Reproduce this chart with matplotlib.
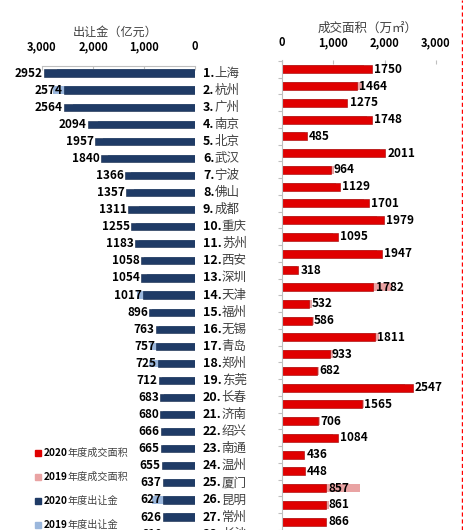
import numpy as np
import matplotlib.pyplot as plt
import matplotlib.transforms as mtransforms
from matplotlib.lines import Line2D
from matplotlib.patches import Rectangle
from matplotlib.ticker import FuncFormatter

plt.rcParams['font.family'] = ['Noto Sans CJK SC', 'DejaVu Sans']

# data
cities = ['上海', '杭州', '广州', '南京', '北京', '武汉', '宁波', '佛山', '成都', '重庆',
          '苏州', '西安', '深圳', '天津', '福州', '无锡', '青岛', '郑州', '东莞', '长春',
          '济南', '绍兴', '南通', '温州', '厦门', '昆明', '常州', '长沙']
fee_2020 = [2952, 2574, 2564, 2094, 1957, 1840, 1366, 1357, 1311, 1255,
            1183, 1058, 1054, 1017, 896, 763, 757, 725, 712, 683,
            680, 666, 665, 655, 637, 627, 626, 610]
fee_2019 = [2700, 2780, 2400, 1900, 1800, 1700, 1250, 1200, 1100, 1150,
            1100, 1000, 950, 1130, 850, 700, 880, 900, 650, 600,
            620, 600, 620, 600, 580, 840, 560, 580]
area_2020 = [1750, 1464, 1275, 1748, 485, 2011, 964, 1129, 1701, 1979,
             1095, 1947, 318, 1782, 532, 586, 1811, 933, 682, 2547,
             1565, 706, 1084, 436, 448, 857, 861, 866]
area_2019 = [1600, 1560, 1200, 1650, 450, 1900, 1020, 1050, 1600, 1850,
             1000, 1850, 300, 2150, 585, 625, 1890, 1000, 720, 2400,
             1600, 745, 1000, 400, 420, 1520, 910, 820]
legend_labels = [('2020', '年度成交面积'), ('2019', '年度成交面积'),
                 ('2020', '年度出让金'), ('2019', '年度出让金')]

W, H = 464, 530
fig = plt.figure(figsize=(W / 100, H / 100), dpi=100)


def box(l, t, r, b):
    return [l / W, 1 - b / H, (r - l) / W, (b - t) / H]


navy = '#1F3B66'
lblue = '#9BB7DC'
red = '#E00000'
pink = '#E9A3A3'
grid = '#BFBFBF'
y = np.arange(len(cities))

# left panel: land fee
axL = fig.add_axes(box(42, 66, 195, 530))
axL.barh(y, fee_2019, height=0.42, color=lblue, zorder=1)
axL.barh(y, fee_2020, height=0.42, color=navy, edgecolor='#12284A', lw=0.4, zorder=2)
axL.set_xlim(3000, 0)
axL.set_ylim(26.76, -0.41)
axL.xaxis.tick_top()
axL.set_xticks([0, 1000, 2000, 3000])
axL.xaxis.set_major_formatter(FuncFormatter(lambda v, p: f'{int(v):,}'))
axL.tick_params(axis='x', direction='in', length=3, color=grid, pad=9,
                labelsize=8, labelcolor='black')
for lab in axL.get_xticklabels():
    lab.set_fontweight('bold')
axL.set_yticks([])
for s in ['left', 'right', 'bottom']:
    axL.spines[s].set_visible(False)
axL.spines['top'].set_color(grid)
axL.spines['top'].set_linewidth(0.8)
for i, v in enumerate(fee_2020):
    axL.annotate(f'{v}', xy=(v, i), xytext=(-1, 0), textcoords='offset points',
                 ha='right', va='center', fontsize=8.5, fontweight='bold',
                 annotation_clip=False)

# city labels
trans = mtransforms.blended_transform_factory(fig.transFigure, axL.transData)
for i, c in enumerate(cities):
    t = axL.text(203 / W, i, f'{i + 1}.', transform=trans, ha='left', va='center',
                 fontsize=9, fontweight='bold', clip_on=False)
    axL.annotate(c, xy=(1, 0.5), xycoords=t, ha='left', va='center',
                 fontsize=9, color='#404040', annotation_clip=False)

# right panel: transaction area
axR = fig.add_axes(box(282, 60, 450, 530))
axR.barh(y, area_2019, height=0.47, color=pink, zorder=1)
axR.barh(y, area_2020, height=0.47, color=red, edgecolor='#A00000', lw=0.4, zorder=2)
axR.set_xlim(0, 3273)
axR.set_ylim(26.96, -0.556)
axR.xaxis.tick_top()
axR.set_xticks([0, 1000, 2000, 3000])
axR.xaxis.set_major_formatter(FuncFormatter(lambda v, p: f'{int(v):,}'))
axR.tick_params(axis='x', direction='in', length=3, color=grid, pad=8,
                labelsize=8, labelcolor='black')
for lab in axR.get_xticklabels():
    lab.set_fontweight('bold')
axR.set_yticks(np.arange(-0.5, len(cities), 1))
axR.set_yticklabels([])
axR.tick_params(axis='y', direction='out', length=3, color=grid)
for s in ['top', 'right', 'bottom']:
    axR.spines[s].set_visible(False)
axR.spines['left'].set_color(grid)
axR.spines['left'].set_linewidth(0.8)
for i, v in enumerate(area_2020):
    axR.annotate(f'{v}', xy=(v, i), xytext=(1.5, 0), textcoords='offset points',
                 ha='left', va='center', fontsize=8.5, fontweight='bold',
                 annotation_clip=False, zorder=3)

# titles
fig.text(115 / W, 1 - 32 / H, '出让金（亿元）', ha='center', va='center',
         fontsize=8.7, color='#404040')
fig.text(368 / W, 1 - 28 / H, '成交面积（万㎡）', ha='center', va='center',
         fontsize=9, color='#404040')

# legend
leg_colors = [red, pink, navy, lblue]
leg_y = [453, 477, 501, 525]
for (yr, txt), col, ly in zip(legend_labels, leg_colors, leg_y):
    fig.add_artist(Rectangle((35 / W, 1 - (ly + 3) / H), 6 / W, 6 / H,
                             transform=fig.transFigure, color=col))
    t = fig.text(44 / W, 1 - ly / H, yr, ha='left', va='center',
                 fontsize=7.3, fontweight='bold')
    fig.text(0, 0, '')
    ann = plt.annotate(txt, xy=(1, 0.5), xycoords=t, ha='left', va='center',
                       fontsize=7.3, color='#404040', annotation_clip=False)

# dashed border on the right
fig.add_artist(Line2D([462 / W, 462 / W], [0, 1], transform=fig.transFigure,
                      color='red', lw=1, ls=(0, (3, 2))))

plt.savefig('out.png', dpi=100)
